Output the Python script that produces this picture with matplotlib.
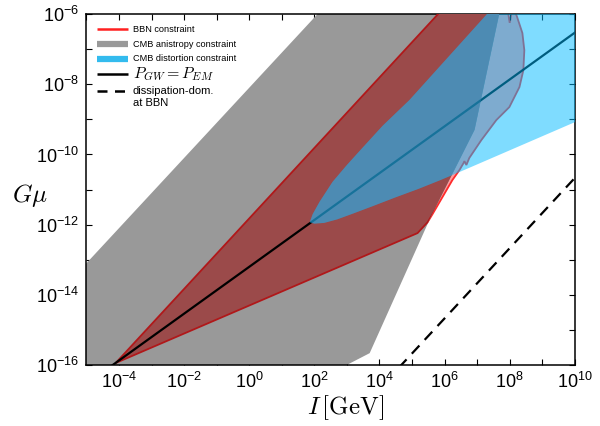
import matplotlib
matplotlib.use("Agg")
import matplotlib.pyplot as plt
from matplotlib.ticker import FixedLocator, FuncFormatter
import numpy as np

plt.rcParams['font.family'] = ['Liberation Sans', 'DejaVu Sans']

# all values are log10 of I [GeV] and log10 of G mu
# CMB anisotropy (gray) region
gray_logI = [-5.5, 2.2, 7.70, 6.92, 5.60, 3.70, 2.99, 1.95, -5.5]
gray_logG = [-13.6, -5.9, -5.9, -9.30, -11.73, -15.66, -16.0, -16.5, -16.5]

# BBN (red) region
bbn_logI = [-4.10, 5.17, 5.48, 5.63, 6.24, 6.46, 6.58, 6.61, 6.67, 6.76, 7.13, 7.59,
            7.99, 8.30, 8.42, 8.45, 8.39, 8.23, 8.17, 8.06, 8.00, 7.95, 5.90]
bbn_logG = [-15.94, -12.24, -11.93, -11.70, -10.73, -10.44, -10.25, -10.19, -10.30, -10.10, -9.59, -9.02,
            -8.65, -8.08, -7.60, -7.03, -6.54, -6.09, -5.94, -5.95, -6.25, -5.95, -5.90]

# CMB distortion (blue) region
cmb_logI = [1.86, 1.95, 2.16, 2.56, 3.00, 3.39, 4.10, 4.92, 7.40, 10.2,
            10.2, 6.46, 5.90, 5.20, 4.50, 3.80, 3.20, 2.70, 2.30, 2.00]
cmb_logG = [-11.93, -11.70, -11.35, -10.78, -10.30, -9.90, -9.18, -8.45, -5.90, -5.90,
            -9.00, -10.50, -10.72, -10.98, -11.22, -11.47, -11.68, -11.85, -11.95, -11.97]

# P_GW = P_EM line and dissipation-dominated line
pgw_logI = [-4.30, 10.0]
pgw_logG = [-16.07, -6.53]
diss_logI = [4.60, 10.0]
diss_logG = [-16.07, -10.67]

x_tick_exps = list(range(-5, 11))
y_tick_exps = list(range(-16, -5))

legend_labels = ['BBN constraint', 'CMB anistropy constraint', 'CMB distortion constraint',
                 r'$P_{GW} = P_{EM}$', 'dissipation-dom.\nat BBN']


def p10(v):
    return 10.0 ** np.array(v)


fig = plt.figure(figsize=(6, 4.26), dpi=100)
ax = fig.add_axes([0.144, 0.143, 0.814, 0.824])
ax.set_xscale('log')
ax.set_yscale('log')

# red region over white (only seen under the blue)
ax.fill(p10(bbn_logI), p10(bbn_logG), facecolor='#fe9c9f', edgecolor='#ff2b2b', lw=1.3, zorder=1)
# gray region
gray = ax.fill(p10(gray_logI), p10(gray_logG), facecolor='#999999', edgecolor='none', zorder=2)[0]
# red region over gray
red_in = ax.fill(p10(bbn_logI), p10(bbn_logG), facecolor='#9b4a4a', edgecolor='#b0181a', lw=1.3, zorder=3)[0]
red_in.set_clip_path(gray)

ax.plot(p10(pgw_logI), p10(pgw_logG), color='black', lw=1.6, zorder=4)
ax.fill(p10(cmb_logI), p10(cmb_logG), facecolor=(0.0, 0.73, 1.0), alpha=0.5, edgecolor='none', zorder=5)
# a little lighter where the blue lies over the gray + red
blue_in = ax.fill(p10(cmb_logI), p10(cmb_logG), facecolor=(0.30, 0.64, 0.85), alpha=0.3,
                  edgecolor='none', zorder=5)[0]
blue_in.set_clip_path(gray)
ax.plot(p10(diss_logI), p10(diss_logG), color='black', lw=1.6, ls=(0, (5, 3.5)), zorder=6)

ax.set_xlim(1e-5, 1e10)
ax.set_ylim(1e-16, 1e-6)

fmt = FuncFormatter(lambda v, pos: r'$\mathdefault{10^{%d}}$' % round(np.log10(v)) if round(np.log10(v)) % 2 == 0 else '')
ax.xaxis.set_major_locator(FixedLocator(p10(x_tick_exps)))
ax.yaxis.set_major_locator(FixedLocator(p10(y_tick_exps)))
ax.xaxis.set_major_formatter(fmt)
ax.yaxis.set_major_formatter(fmt)
ax.minorticks_off()
ax.tick_params(which='both', direction='in', top=True, right=True, length=4, width=0.8,
               labelsize=13, pad=5)
for s in ax.spines.values():
    s.set_linewidth(1.1)

ax.set_ylabel(r'$G\mu$', fontsize=18, rotation=0, math_fontfamily='cm', va='center', ha='center')
ax.yaxis.set_label_coords(-0.115, 0.484)
ax.set_xlabel(r'$I\,[\mathrm{GeV}]$', fontsize=18, math_fontfamily='cm', va='center')
ax.xaxis.set_label_coords(0.53, -0.122)

# legend drawn by hand (rows have different text sizes)
hx = [0.0215, 0.085]
tx = 0.095
rows_y = [0.957, 0.9145, 0.872, 0.829, 0.781]
styles = [dict(color='#ff2020', lw=1.8),
          dict(color='#999999', lw=4.5),
          dict(color='#33bbee', lw=4.5),
          dict(color='black', lw=1.8),
          dict(color='black', lw=1.8, ls=(0, (4, 3)))]
for y, st in zip(rows_y, styles):
    ax.plot(hx, [y, y], transform=ax.transAxes, solid_capstyle='butt', dash_capstyle='butt', zorder=7, **st)
for i in range(3):
    ax.text(tx, rows_y[i], legend_labels[i], transform=ax.transAxes, fontsize=6.6, va='center', zorder=7)
ax.text(tx, rows_y[3], legend_labels[3], transform=ax.transAxes, fontsize=11.5, va='center',
        math_fontfamily='cm', zorder=7)
ax.text(tx, rows_y[4] + 0.013, legend_labels[4], transform=ax.transAxes, fontsize=8, va='top',
        linespacing=1.15, zorder=7)

fig.savefig('out.png', dpi=100)
